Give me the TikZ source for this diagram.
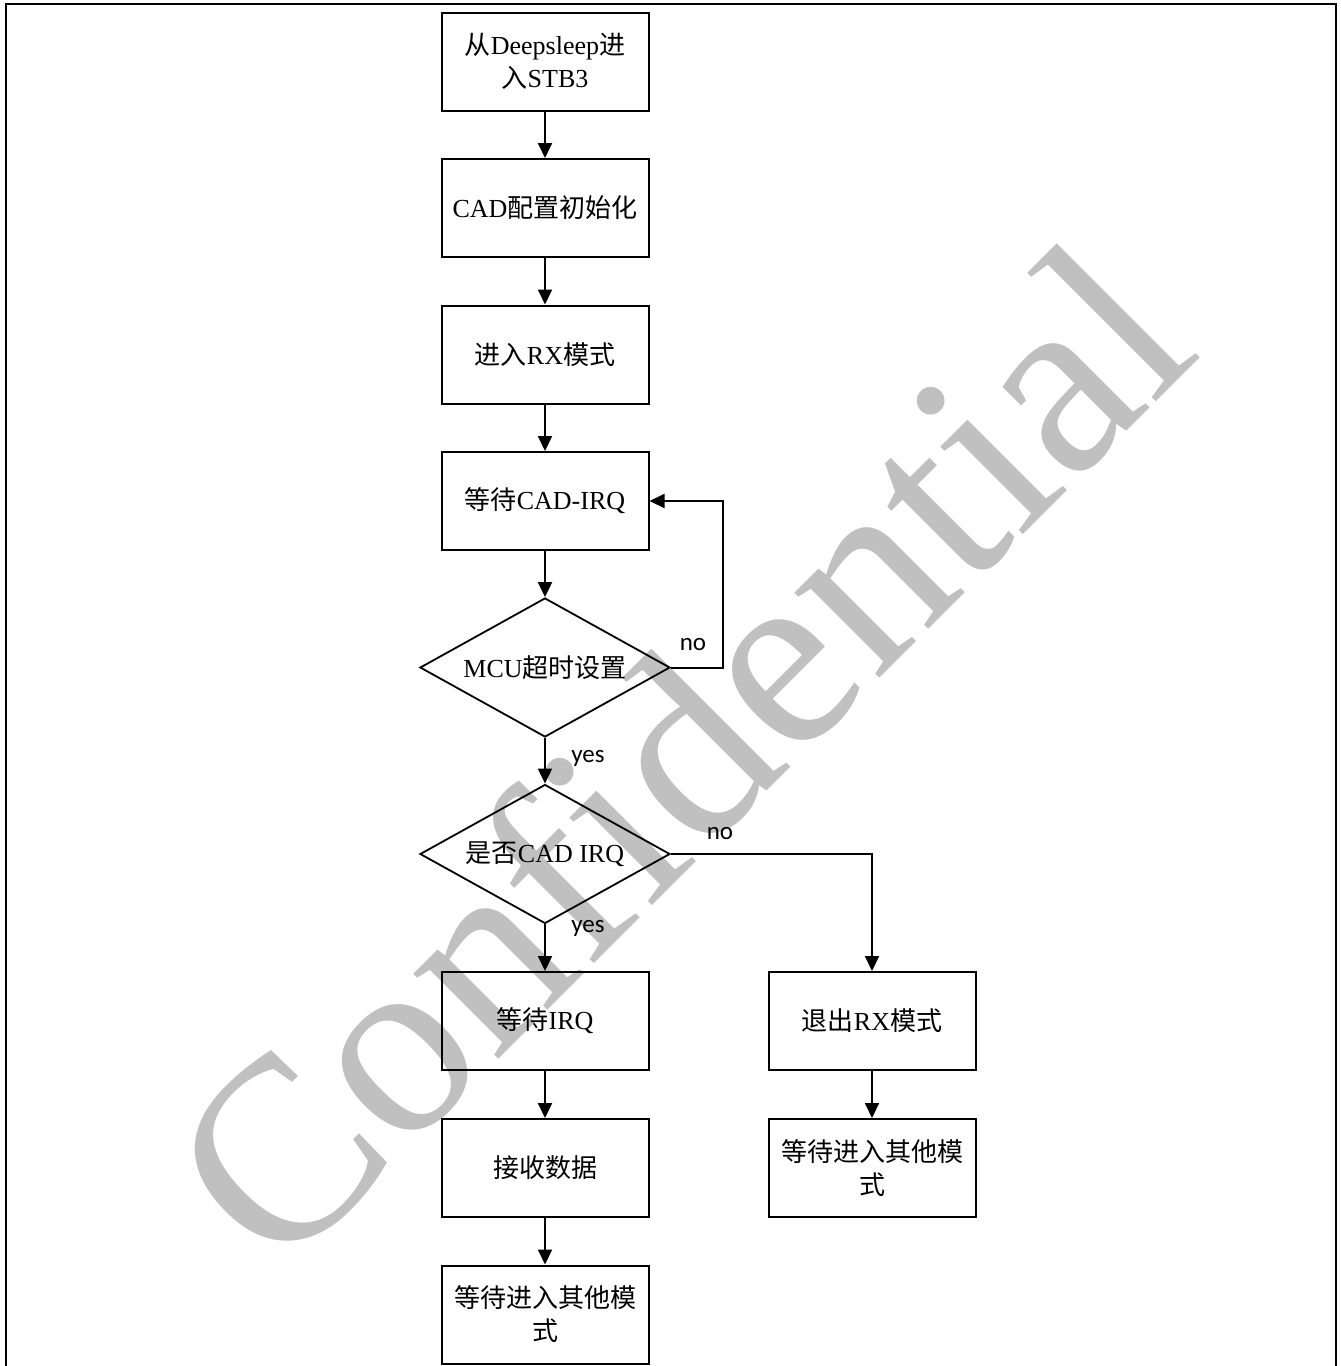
\documentclass[tikz,border=0pt]{standalone}
\usepackage{fontspec}
\setmainfont{Liberation Serif}
\newfontfamily\cjk{Noto Sans CJK SC}
\newfontfamily\labfont{Carlito}
\usetikzlibrary{shapes.geometric,arrows.meta}
\newcommand\zh[1]{{\cjk #1}}
\definecolor{wmgray}{RGB}{192,192,192}
\begin{document}
\begin{tikzpicture}[x=1pt,y=-1pt,
  stepbox/.style={draw, line width=2pt, minimum width=207pt, minimum height=98pt, inner sep=0pt, align=center, font=\fontsize{26}{33}\selectfont},
  decide/.style={draw, diamond, line width=1.8pt, minimum width=250pt, minimum height=139pt, inner sep=0pt, aspect=1.8, font=\fontsize{26}{33}\selectfont},
  conn/.style={line width=2pt, -{Triangle[length=15pt,width=14pt]}},
  lab/.style={font=\labfont\fontsize{25}{30}\selectfont, inner sep=0pt},
  wmark/.style={text=wmgray, rotate=45, anchor=base west, inner sep=0pt, font=\fontsize{262}{262}\selectfont},
  frameline/.style={line width=2pt}
]
\useasboundingbox (0,0) rectangle (1341,1366);
\fill[white] (0,0) rectangle (1341,1366);
\node[wmark] (wm) at (278,1280) {Confidential};
\draw[frameline] (6,1370) -- (6,4) -- (1336,4) -- (1336,1370);

\node[stepbox] (b1) at (545,61.5) {\zh{从}Deepsleep\zh{进}\\\zh{入}STB3};
\node[stepbox] (b2) at (545,208) {CAD\zh{配置初始化}};
\node[stepbox] (b3) at (545,354.5) {\zh{进入}RX\zh{模式}};
\node[stepbox] (b4) at (545,501) {\zh{等待}CAD-IRQ};
\node[decide] (d1) at (545,667.5) {MCU\zh{超时设置}};
\node[decide] (d2) at (545,854) {\zh{是否}CAD IRQ};
\node[stepbox] (b5) at (545,1021) {\zh{等待}IRQ};
\node[stepbox] (b6) at (545,1168) {\zh{接收数据}};
\node[stepbox] (b7) at (545,1314.5) {\zh{等待进入其他模}\\\zh{式}};
\node[stepbox] (r1) at (872,1021) {\zh{退出}RX\zh{模式}};
\node[stepbox] (r2) at (872,1168) {\zh{等待进入其他模}\\\zh{式}};

\draw[conn] (b1) -- (b2);
\draw[conn] (b2) -- (b3);
\draw[conn] (b3) -- (b4);
\draw[conn] (b4) -- (d1);
\draw[conn] (d1) -- (d2);
\draw[conn] (d2) -- (b5);
\draw[conn] (b5) -- (b6);
\draw[conn] (b6) -- (b7);
\draw[conn] (r1) -- (r2);
\coordinate (loopc) at (723,667.5);
\draw[conn] (d1.east) -- (loopc) |- (b4.east);
\draw[conn] (d2.east) -| (r1.north);

\node[lab] (no1) at (693,645) {no};
\node[lab] (yes1) at (588,758) {yes};
\node[lab] (no2) at (720,834) {no};
\node[lab] (yes2) at (588,928) {yes};
\end{tikzpicture}
\end{document}
